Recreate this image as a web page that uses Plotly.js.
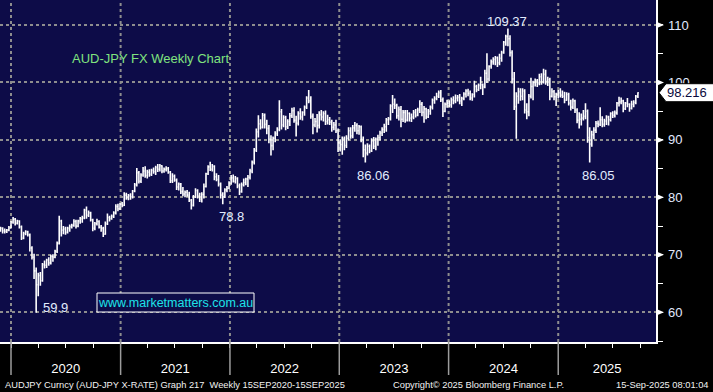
<!DOCTYPE html>
<html><head><meta charset="utf-8">
<script src="https://cdn.plot.ly/plotly-3.0.1.min.js"></script>
<style>html,body{margin:0;padding:0;background:#000;}#chart{width:713px;height:392px;}</style>
</head><body><div id="chart"></div>
<script>
// ---- data: AUD-JPY weekly bars ----
const firstWeek = '2019-11-27';
const opens = [
74.4,74.6,74.2,74.1,74.3,74.7,75.7,76.2,75.5,75.9,
74.9,72.9,73.7,74.0,73.5,71.2,69.6,67.2,64.8,66.4,
65.5,68.3,68.2,69.1,68.6,69.7,69.6,70.6,72.0,75.9,
74.3,74.5,73.9,74.6,74.9,75.1,75.8,75.0,75.9,76.3,
76.4,77.8,76.9,77.3,76.1,74.6,75.4,75.8,74.8,74.6,
73.6,75.4,76.5,76.3,76.7,77.3,78.4,78.0,78.8,78.6,
80.4,79.9,80.3,80.1,81.1,82.2,84.3,82.8,83.9,84.6,
83.8,84.4,84.0,84.7,84.5,85.2,84.9,85.5,84.6,84.9,
85.0,84.4,82.9,83.7,83.0,81.8,82.3,81.0,80.6,80.9,
80.4,79.5,78.6,80.1,81.2,80.3,79.7,80.5,81.9,84.1,
85.3,84.9,85.4,83.6,83.1,82.3,80.4,80.1,81.3,81.6,
82.5,83.4,82.8,83.3,82.0,81.0,82.2,82.6,83.2,83.5,
84.6,86.1,88.2,91.4,92.8,92.2,94.3,92.7,92.0,90.1,
89.0,90.3,91.1,91.8,94.9,92.6,93.9,92.3,93.2,94.2,
95.1,93.4,92.9,94.6,94.0,94.8,95.7,97.3,96.8,94.1,
92.6,93.2,92.5,94.4,94.0,94.6,93.2,93.5,93.1,92.2,
92.6,91.6,89.5,89.2,90.2,89.0,90.3,91.6,90.7,92.1,
92.5,91.6,92.3,90.1,88.3,87.7,88.9,88.1,89.8,88.9,
90.1,90.4,91.2,91.8,92.3,93.5,93.7,95.9,96.2,96.0,
94.2,95.3,93.6,94.8,93.4,94.6,93.8,94.0,94.8,94.3,
95.2,96.2,94.8,95.4,94.0,95.0,95.7,96.9,97.2,97.6,
98.2,97.0,95.0,96.2,96.4,96.1,97.0,96.8,97.3,97.4,
96.8,97.2,98.0,98.5,98.1,97.3,97.9,99.3,98.7,99.5,
99.6,99.2,101.6,100.6,102.8,103.6,104.0,104.3,103.4,104.2,
105.2,107.0,108.0,107.6,105.2,100.6,95.8,97.6,98.4,97.6,
98.5,95.2,94.9,97.6,99.3,100.0,100.3,99.9,101.0,100.1,
101.4,100.2,100.5,97.6,98.4,97.5,97.9,98.2,97.8,97.6,
96.9,97.9,96.4,95.7,96.8,95.2,93.4,93.6,93.8,94.1,
95.0,90.4,89.3,90.9,91.7,92.9,92.7,93.5,92.7,93.3,
94.0,93.5,94.6,94.3,94.7,96.4,96.6,96.8,95.4,96.4,
96.2,95.5,96.2,96.5,97.6];
const highs = [
74.9,74.8,74.6,74.5,75.0,75.9,76.6,76.4,76.1,76.0,
75.1,74.0,74.3,74.2,73.7,71.5,70.2,67.8,66.9,67.0,
68.6,69.0,69.3,69.6,70.0,70.1,70.9,72.3,76.8,76.1,
75.0,74.9,74.9,75.3,75.4,76.2,76.1,76.1,76.6,76.8,
78.0,78.4,77.7,77.5,76.3,75.7,76.3,76.0,75.2,74.9,
75.8,77.2,76.8,77.0,77.6,78.8,78.9,79.0,79.2,80.9,
80.8,80.6,80.7,81.3,82.5,85.1,84.6,84.2,85.3,85.4,
84.8,84.9,85.0,85.2,85.5,85.8,85.8,85.6,85.2,85.4,
85.3,84.6,84.2,84.0,83.3,82.6,82.5,81.8,81.2,81.3,
81.0,79.7,80.4,81.6,81.4,80.8,80.9,82.4,84.3,85.6,
86.2,85.8,85.6,84.2,83.9,82.6,80.9,81.6,82.0,82.8,
83.9,84.0,83.7,83.5,82.4,82.6,83.3,83.4,83.9,85.0,
86.4,88.6,92.0,94.3,93.6,94.7,94.6,93.5,92.6,90.8,
90.6,91.5,92.2,96.9,95.4,94.3,94.2,93.6,94.7,95.6,
95.7,94.2,95.0,95.5,95.0,96.0,97.6,98.7,97.6,94.6,
93.8,94.5,95.0,95.2,95.0,95.1,94.4,94.0,93.5,93.1,
93.5,92.0,90.1,90.6,90.6,90.8,92.2,92.2,92.6,93.1,
92.9,92.6,92.5,90.6,89.2,89.4,89.2,90.3,90.5,90.4,
90.9,91.6,92.2,92.8,93.8,94.0,96.2,97.8,97.2,96.3,
95.8,95.9,95.2,95.2,95.2,94.8,94.6,95.2,95.4,95.6,
96.9,96.6,95.9,95.6,95.4,96.0,97.2,97.6,98.2,98.6,
98.7,97.4,96.5,97.0,96.9,97.4,97.6,97.9,97.8,98.0,
97.5,98.3,98.8,98.9,98.6,98.1,100.3,99.6,99.8,101.0,
99.8,102.2,105.1,103.0,104.0,104.4,104.6,104.5,105.0,105.5,
107.2,108.3,109.37,108.2,105.6,101.8,98.3,99.1,99.0,99.0,
98.8,96.4,98.0,100.8,100.3,100.7,100.6,101.5,101.6,102.4,
102.2,101.0,100.8,99.0,98.7,98.2,98.7,99.0,98.6,98.4,
98.3,98.2,97.0,97.2,97.0,95.5,94.8,94.6,95.2,96.4,
95.3,92.2,91.6,92.2,93.3,93.4,95.7,94.1,93.7,94.3,
94.2,94.8,95.0,95.1,96.6,97.5,97.4,97.0,96.6,97.3,
96.4,96.8,96.9,97.8,98.3];
const lows = [
74.0,73.7,73.7,73.8,74.1,74.6,75.4,75.1,75.3,74.6,
72.6,72.7,73.4,73.2,70.6,69.2,65.8,59.9,62.8,64.6,
65.3,67.6,67.7,68.1,68.3,68.8,69.4,70.3,71.8,73.2,
73.6,73.5,73.7,74.0,74.6,74.9,74.6,74.8,75.4,75.6,
76.2,76.3,76.6,75.8,74.1,74.3,75.1,74.6,74.0,73.1,
73.5,75.2,75.8,76.1,76.4,77.0,77.6,77.8,78.3,78.5,
79.6,79.5,79.6,79.8,80.9,81.9,82.4,82.5,83.6,83.4,
83.3,83.6,83.7,84.1,83.9,84.4,84.5,84.2,84.3,84.5,
84.1,82.5,82.5,82.7,81.3,81.2,80.6,80.2,80.0,80.1,
79.2,77.9,78.4,79.9,79.8,79.2,79.1,79.8,81.7,83.9,
84.6,84.5,83.0,82.8,81.9,79.8,78.8,79.9,80.9,81.4,
82.2,82.6,82.4,81.6,80.4,80.8,81.9,82.1,81.8,83.1,
84.2,85.7,87.9,90.4,91.8,92.0,92.0,91.0,89.4,87.3,
88.2,89.6,90.7,91.5,91.8,92.2,91.7,91.9,92.4,93.8,
93.0,90.6,92.5,93.5,93.4,94.2,95.4,96.4,93.7,91.0,
92.2,91.3,92.0,93.4,93.2,92.6,92.7,92.6,91.4,91.7,
91.2,87.9,88.0,87.4,88.2,88.6,89.9,90.2,90.3,91.4,
91.0,90.9,89.6,87.0,86.06,87.3,87.7,87.9,88.4,88.2,
89.0,89.9,90.7,91.2,91.4,92.6,93.4,94.7,95.4,93.7,
93.4,92.2,93.1,93.0,93.2,93.2,93.1,93.6,93.9,94.1,
94.7,94.1,93.0,93.6,93.8,94.4,95.3,96.3,96.9,97.3,
96.6,94.0,94.8,95.6,95.7,95.6,96.2,96.4,96.7,96.2,
95.9,96.9,97.4,97.6,96.9,96.8,97.4,98.3,98.5,98.8,
97.8,99.0,99.9,100.2,102.4,103.1,103.0,102.7,103.0,103.6,
105.0,106.4,106.3,104.5,99.8,95.2,90.2,96.3,96.8,96.9,
94.6,93.6,94.1,97.2,96.9,99.3,99.2,99.5,99.6,99.8,
99.6,99.4,96.9,97.4,96.9,95.9,97.2,97.4,97.3,96.4,
96.8,96.0,95.1,95.4,94.7,92.9,92.0,92.5,93.4,93.6,
89.5,86.05,88.8,90.1,91.2,92.2,92.4,92.2,92.3,92.6,
92.5,93.2,93.8,93.9,94.4,95.8,96.2,94.8,95.2,95.7,
94.9,95.3,95.7,96.2,97.3];
const closes = [
74.6,74.2,74.1,74.3,74.7,75.7,76.2,75.5,75.9,74.9,
72.9,73.7,74.0,73.5,71.2,69.6,67.2,64.8,66.4,65.5,
68.3,68.2,69.1,68.6,69.7,69.6,70.6,72.0,75.9,74.3,
74.5,73.9,74.6,74.9,75.1,75.8,75.0,75.9,76.3,76.4,
77.8,76.9,77.3,76.1,74.6,75.4,75.8,74.8,74.6,73.6,
75.4,76.5,76.3,76.7,77.3,78.4,78.0,78.8,78.6,80.4,
79.9,80.3,80.1,81.1,82.2,84.3,82.8,83.9,84.6,83.8,
84.4,84.0,84.7,84.5,85.2,84.9,85.5,84.6,84.9,85.0,
84.4,82.9,83.7,83.0,81.8,82.3,81.0,80.6,80.9,80.4,
79.5,78.6,80.1,81.2,80.3,79.7,80.5,81.9,84.1,85.3,
84.9,85.4,83.6,83.1,82.3,80.4,80.1,81.3,81.6,82.5,
83.4,82.8,83.3,82.0,81.0,82.2,82.6,83.2,83.5,84.6,
86.1,88.2,91.4,92.8,92.2,94.3,92.7,92.0,90.1,89.0,
90.3,91.1,91.8,94.9,92.6,93.9,92.3,93.2,94.2,95.1,
93.4,92.9,94.6,94.0,94.8,95.7,97.3,96.8,94.1,92.6,
93.2,92.5,94.4,94.0,94.6,93.2,93.5,93.1,92.2,92.6,
91.6,89.5,89.2,90.2,89.0,90.3,91.6,90.7,92.1,92.5,
91.6,92.3,90.1,88.3,87.7,88.9,88.1,89.8,88.9,90.1,
90.4,91.2,91.8,92.3,93.5,93.7,95.9,96.2,96.0,94.2,
95.3,93.6,94.8,93.4,94.6,93.8,94.0,94.8,94.3,95.2,
96.2,94.8,95.4,94.0,95.0,95.7,96.9,97.2,97.6,98.2,
97.0,95.0,96.2,96.4,96.1,97.0,96.8,97.3,97.4,96.8,
97.2,98.0,98.5,98.1,97.3,97.9,99.3,98.7,99.5,99.6,
99.2,101.6,100.6,102.8,103.6,104.0,104.3,103.4,104.2,105.2,
107.0,108.0,107.6,105.2,100.6,95.8,97.6,98.4,97.6,98.5,
95.2,94.9,97.6,99.3,100.0,100.3,99.9,101.0,100.1,101.4,
100.2,100.5,97.6,98.4,97.5,97.9,98.2,97.8,97.6,96.9,
97.9,96.4,95.7,96.8,95.2,93.4,93.6,93.8,94.1,95.0,
90.4,89.3,90.9,91.7,92.9,92.7,93.5,92.7,93.3,94.0,
93.5,94.6,94.3,94.7,96.4,96.6,96.8,95.4,96.4,96.2,
95.5,96.2,96.5,97.6,98.216];
const years = [2020, 2021, 2022, 2023, 2024, 2025];
const yTicks = [60, 70, 80, 90, 100, 110];
const calloutText = ['109.37', '86.06', '86.05', '78.8', '59.9'];
const calloutAt = ['high', 'low', 'low', 'low', 'low'];

// ---- styling / layout ----
const xRange = ['2019-11-25 07:00:00', '2025-11-23 10:00:00'];
const yRange = [54.83, 114.35];
const calloutShift = [[-1, 7], [8, -12.5], [9, -12.5], [9, -12.7], [19, 5.4]];
const NAVY = '#0d0c48', GRID = '#8e8e8e';
const FONT = 'Arial, "Liberation Sans", sans-serif';

const dates = opens.map((_, i) => {
  const d = new Date(firstWeek + 'T00:00:00Z');
  d.setUTCDate(d.getUTCDate() + 7 * i);
  return d.toISOString().slice(0, 10);
});
const lastPrice = closes[closes.length - 1];

const r0 = Date.parse(xRange[0].replace(' ', 'T') + 'Z');
const r1 = Date.parse(xRange[1].replace(' ', 'T') + 'Z');
const yearMid = years.map(y => {
  const a = Math.max(Date.UTC(y, 0, 1), r0);
  const b = Math.min(Date.UTC(y + 1, 0, 1), r1);
  return new Date((a + b) / 2).toISOString().replace('T', ' ').slice(0, 19);
});

const shapes = [];
years.forEach(y => {
  const d = y + '-01-01';
  shapes.push({type: 'line', xref: 'x', yref: 'paper', x0: d, x1: d, y0: 0, y1: 1,
    line: {color: GRID, width: 2, dash: 'dot'}, layer: 'between'});
  shapes.push({type: 'line', xref: 'x', yref: 'paper', x0: d, x1: d, y0: 0, y1: -33 / 342,
    line: {color: '#9c9c9c', width: 1.5}, layer: 'above'});
});
yTicks.forEach(v => {
  shapes.push({type: 'path', xref: 'paper', xsizemode: 'pixel', xanchor: 1,
    yref: 'y', ysizemode: 'pixel', yanchor: v, path: 'M1,3 L8,0 L1,-3 Z',
    fillcolor: '#ffffff', line: {width: 0}, layer: 'above'});
});
// last price tag
shapes.push({type: 'path', xref: 'paper', xsizemode: 'pixel', xanchor: 1,
  yref: 'y', ysizemode: 'pixel', yanchor: lastPrice,
  path: 'M3,0 L10,9 L64,9 L64,-9 L10,-9 Z', fillcolor: '#ffffff',
  line: {color: '#000000', width: 1}, layer: 'above'});
// website box
shapes.push({type: 'rect', xref: 'paper', yref: 'paper', x0: 97 / 656, x1: 254 / 656,
  y0: 30 / 342, y1: 49 / 342, fillcolor: NAVY, line: {color: '#ffffff', width: 1}, layer: 'above'});

const annotations = [];
annotations.push({xref: 'paper', yref: 'paper', x: 70 / 656, y: (342 - 58) / 342,
  xanchor: 'left', yanchor: 'middle', showarrow: false, text: 'AUD-JPY FX Weekly Chart',
  font: {family: FONT, size: 13, color: '#80e37f'}});
calloutText.forEach((t, j) => {
  const v = Number(t);
  const src = calloutAt[j] === 'high' ? highs : lows;
  const i = src.findIndex(z => Math.abs(z - v) < 1e-9);
  annotations.push({xref: 'x', yref: 'y', x: dates[i], y: v, text: t, showarrow: false,
    xanchor: 'center', yanchor: 'middle', xshift: calloutShift[j][0], yshift: calloutShift[j][1],
    font: {family: FONT, size: 13, color: '#e2ecff'}});
});
annotations.push({xref: 'paper', yref: 'y', x: 1, y: lastPrice, xanchor: 'left', yanchor: 'middle',
  xshift: 9, showarrow: false, text: lastPrice.toFixed(3),
  font: {family: FONT, size: 13, color: '#0a0a3c'}});
annotations.push({xref: 'paper', yref: 'paper', x: 175.5 / 656, y: (342 - 302.5) / 342,
  xanchor: 'center', yanchor: 'middle', showarrow: false, text: 'www.marketmatters.com.au',
  font: {family: FONT, size: 12.5, color: '#1de3e8'}});
const footY = (342 - 385) / 342;
annotations.push({xref: 'paper', yref: 'paper', x: 3 / 656, y: footY, xanchor: 'left', yanchor: 'middle',
  showarrow: false, text: 'AUDJPY Curncy (AUD-JPY X-RATE) Graph 217 \u00a0Weekly 15SEP2020-15SEP2025',
  font: {family: FONT, size: 9.3, color: '#f2f2f2'}});
annotations.push({xref: 'paper', yref: 'paper', x: 391 / 656, y: footY, xanchor: 'left', yanchor: 'middle',
  showarrow: false, text: 'Copyright\u00a9 2025 Bloomberg Finance L.P.',
  font: {family: FONT, size: 9.3, color: '#f2f2f2'}});
annotations.push({xref: 'paper', yref: 'paper', x: 711 / 656, y: footY, xanchor: 'right', yanchor: 'middle',
  showarrow: false, text: '15-Sep-2025 08:01:04',
  font: {family: FONT, size: 9.3, color: '#f2f2f2'}});

const trace = {
  type: 'ohlc', x: dates, open: opens, high: highs, low: lows, close: closes,
  increasing: {line: {color: '#ffffff', width: 1.6}},
  decreasing: {line: {color: '#ffffff', width: 1.6}},
  tickwidth: 0.45, hoverinfo: 'skip'
};

const layout = {
  width: 713, height: 392,
  margin: {l: 0, r: 57, t: 0, b: 50, pad: 0},
  paper_bgcolor: '#000000', plot_bgcolor: NAVY,
  showlegend: false,
  font: {family: FONT, color: '#ffffff'},
  xaxis: {
    type: 'date', range: xRange, rangeslider: {visible: false}, automargin: false,
    showgrid: false, zeroline: false, showline: true, linecolor: '#ffffff', linewidth: 1.5,
    tickmode: 'array', tickvals: yearMid, ticktext: years.map(String),
    ticks: '', ticklabelstandoff: 14, tickfont: {family: FONT, size: 13, color: '#ffffff'},
    minor: {dtick: 'M3', tick0: '2020-01-01', ticks: 'outside', ticklen: 4,
      tickcolor: '#ffffff', tickwidth: 1, showgrid: false},
    fixedrange: true
  },
  yaxis: {
    side: 'right', range: yRange, automargin: false,
    tickmode: 'array', tickvals: yTicks, ticktext: yTicks.map(String),
    showgrid: true, gridcolor: GRID, griddash: 'dot', gridwidth: 2,
    zeroline: false, showline: true, linecolor: '#ffffff', linewidth: 1.5,
    ticks: '', ticklabelstandoff: 8, tickfont: {family: FONT, size: 13, color: '#e2eaff'},
    minor: {dtick: 5, tick0: 0, ticks: 'outside', ticklen: 5, tickcolor: '#ffffff',
      tickwidth: 1, showgrid: false},
    fixedrange: true
  },
  shapes: shapes,
  annotations: annotations
};

Plotly.newPlot('chart', [trace], layout, {staticPlot: true, displayModeBar: false});
</script>
</body></html>
